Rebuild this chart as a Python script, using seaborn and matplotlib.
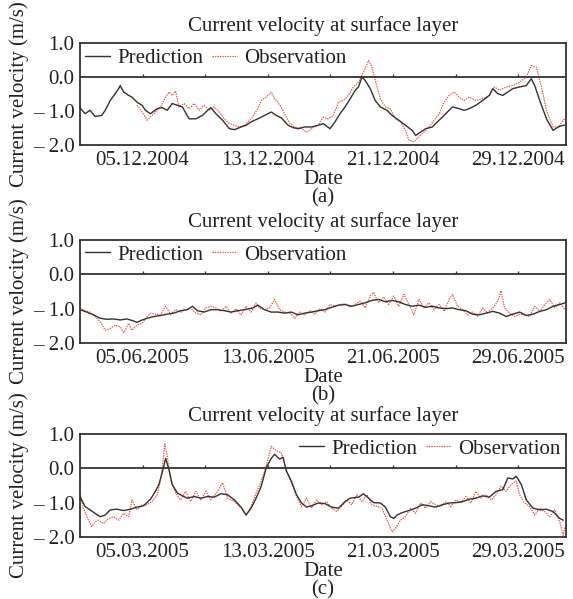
import numpy as np
import pandas as pd
import matplotlib
matplotlib.use("Agg")
import matplotlib.pyplot as plt
import matplotlib.dates as mdates
import seaborn as sns

# ---------------- data ----------------
# day offsets from the panel start date, and velocity (m/s)
a_pred_day = [0.00,0.32,0.64,0.96,1.39,1.61,1.93,2.25,2.47,2.57,2.79,3.11,3.32,3.64,3.97,4.18,4.50,4.93,5.25,5.57,
              5.89,6.22,6.54,6.97,7.40,7.82,8.15,8.36,8.68,9.11,9.54,9.86,10.29,10.61,10.93,11.36,11.79,12.22,12.54,12.86,
              13.29,13.61,13.93,14.36,14.79,15.22,15.54,15.97,16.29,16.61,16.93,17.26,17.58,17.79,18.01,18.22,18.54,18.86,19.19,19.61,
              19.94,20.36,20.79,21.22,21.44,21.76,22.08,22.51,22.83,23.15,23.47,23.79,24.22,24.54,24.87,25.29,25.72,26.15,26.37,26.69,
              27.01,27.33,27.65,28.08,28.51,28.83,29.05,29.37,29.80,30.22,30.55,30.87,31.04]
a_pred_val = [-0.90,-1.08,-0.98,-1.16,-1.13,-0.98,-0.69,-0.49,-0.34,-0.25,-0.44,-0.54,-0.59,-0.74,-0.83,-0.98,-1.08,-0.93,-0.90,-0.98,
              -0.78,-0.83,-0.88,-1.23,-1.23,-1.13,-0.98,-0.90,-1.08,-1.27,-1.52,-1.55,-1.47,-1.42,-1.32,-1.23,-1.13,-1.03,-1.13,-1.20,
              -1.42,-1.49,-1.52,-1.47,-1.47,-1.42,-1.37,-1.52,-1.32,-1.08,-0.88,-0.64,-0.39,-0.29,0.00,-0.10,-0.34,-0.69,-0.88,-0.98,
              -1.13,-1.27,-1.42,-1.57,-1.72,-1.62,-1.52,-1.47,-1.32,-1.18,-1.03,-0.88,-0.93,-0.98,-0.93,-0.83,-0.69,-0.54,-0.34,-0.49,
              -0.54,-0.44,-0.34,-0.29,-0.25,-0.05,-0.25,-0.69,-1.23,-1.57,-1.47,-1.42,-1.42]
a_obs_day = [3.64,3.97,4.29,4.61,4.93,5.14,5.47,5.68,5.89,6.11,6.32,6.65,6.97,7.29,7.61,7.93,8.25,8.57,8.90,9.22,
             9.54,9.86,10.18,10.50,10.93,11.36,11.58,11.90,12.22,12.43,12.65,13.08,13.40,13.72,14.15,14.47,14.79,15.22,15.54,15.86,
             16.18,16.51,16.83,17.15,17.47,17.79,18.11,18.44,18.65,18.86,19.19,19.51,19.83,20.15,20.47,20.79,21.01,21.33,21.65,21.97,
             22.29,22.62,22.94,23.26,23.58,23.90,24.22,24.54,24.87,25.29,25.72,26.15,26.47,26.80,27.22,27.65,28.08,28.51,28.83,29.15,
             29.48,29.80,30.22,30.55,30.87,31.04]
a_obs_val = [-0.83,-1.03,-1.27,-1.13,-0.98,-0.88,-0.59,-0.44,-0.54,-0.41,-0.88,-0.78,-0.93,-0.78,-0.98,-0.83,-0.98,-0.88,-1.03,-1.23,
             -1.37,-1.42,-1.47,-1.42,-1.23,-0.93,-0.69,-0.59,-0.44,-0.64,-0.74,-1.08,-1.37,-1.47,-1.52,-1.62,-1.52,-1.42,-1.18,-1.23,
             -1.13,-0.74,-0.69,-0.54,-0.29,-0.15,0.15,0.49,0.29,-0.10,-0.64,-0.88,-0.93,-1.23,-1.32,-1.57,-1.86,-1.91,-1.76,-1.62,
             -1.47,-1.27,-1.08,-0.74,-0.54,-0.44,-0.59,-0.69,-0.59,-0.69,-0.64,-0.54,-0.29,-0.39,-0.29,-0.25,-0.15,0.00,0.34,0.29,
             -0.29,-0.98,-1.47,-1.47,-1.27,-1.18]

b_pred_day = [0.00,0.43,0.86,1.29,1.71,2.14,2.57,3.00,3.43,3.64,3.97,4.29,4.72,5.14,5.57,6.00,6.43,6.86,7.18,7.50,
              7.93,8.36,8.79,9.22,9.65,10.08,10.50,11.04,11.36,11.79,12.22,12.65,13.08,13.50,13.93,14.36,14.79,15.22,15.65,16.08,
              16.51,16.93,17.36,17.79,18.22,18.65,19.08,19.51,19.94,20.36,20.79,21.22,21.65,22.08,22.51,22.94,23.37,23.79,24.22,24.65,
              25.08,25.51,25.94,26.37,26.80,27.22,27.65,28.08,28.51,28.94,29.37,29.80,30.22,30.65,30.98]
b_pred_val = [-1.03,-1.10,-1.18,-1.28,-1.31,-1.30,-1.33,-1.30,-1.36,-1.40,-1.33,-1.28,-1.23,-1.20,-1.16,-1.13,-1.06,-1.03,-0.93,-1.06,
              -1.10,-1.03,-1.03,-1.06,-1.10,-1.06,-1.03,-0.98,-0.90,-1.03,-1.10,-1.10,-1.13,-1.10,-1.18,-1.13,-1.10,-1.06,-1.03,-0.96,
              -0.90,-0.88,-0.93,-0.88,-0.83,-0.76,-0.73,-0.80,-0.76,-0.80,-0.88,-0.93,-0.90,-0.96,-0.93,-0.98,-1.00,-0.98,-1.03,-1.06,
              -1.16,-1.18,-1.13,-1.08,-1.13,-1.23,-1.16,-1.10,-1.20,-1.16,-1.08,-1.03,-0.93,-0.88,-0.83]
b_obs_day = [0.00,0.32,0.64,0.96,1.29,1.61,1.93,2.25,2.57,2.79,3.11,3.32,3.64,3.97,4.29,4.50,4.82,5.14,5.47,5.79,
             6.11,6.43,6.75,7.07,7.40,7.72,8.04,8.36,8.68,9.00,9.32,9.65,9.97,10.29,10.61,10.93,11.25,11.47,11.79,12.11,
             12.43,12.75,13.08,13.40,13.72,14.04,14.36,14.68,15.01,15.33,15.65,15.97,16.29,16.61,16.93,17.26,17.58,17.90,18.22,18.54,
             18.76,19.08,19.40,19.72,20.04,20.36,20.69,21.01,21.33,21.65,21.97,22.29,22.62,22.94,23.26,23.58,23.79,24.12,24.44,24.76,
             25.08,25.40,25.72,26.05,26.37,26.69,26.90,27.12,27.44,27.76,28.08,28.40,28.72,29.05,29.37,29.69,30.01,30.33,30.65,30.98]
b_obs_val = [-0.98,-1.06,-1.10,-1.23,-1.38,-1.63,-1.58,-1.48,-1.53,-1.70,-1.43,-1.63,-1.48,-1.43,-1.23,-1.13,-1.16,-1.18,-0.93,-1.16,
             -1.03,-1.10,-1.03,-0.98,-1.13,-1.18,-0.98,-0.93,-0.98,-1.08,-0.93,-1.13,-1.00,-1.18,-0.93,-1.10,-0.83,-0.98,-1.03,-0.98,
             -0.73,-1.03,-1.10,-1.13,-1.28,-1.10,-1.18,-1.06,-1.16,-1.00,-1.10,-0.88,-0.93,-0.88,-0.86,-0.96,-0.88,-0.78,-0.98,-0.63,
             -0.53,-0.83,-0.66,-0.88,-0.63,-0.93,-0.58,-0.88,-1.18,-0.73,-0.98,-0.83,-1.03,-0.88,-1.08,-0.73,-0.58,-0.93,-1.03,-1.18,
             -1.10,-1.23,-0.98,-1.13,-0.98,-0.78,-0.48,-0.98,-1.13,-1.23,-1.16,-1.18,-1.23,-0.93,-1.08,-0.88,-0.73,-0.98,-0.83,-1.03]

c_pred_day = [0.00,0.32,0.64,0.96,1.29,1.61,1.93,2.36,2.79,3.22,3.64,4.07,4.50,4.82,5.04,5.25,5.47,5.68,5.89,6.22,
              6.54,6.86,7.29,7.72,8.15,8.57,9.00,9.43,9.86,10.29,10.61,10.93,11.25,11.58,11.90,12.22,12.43,12.75,12.97,13.18,
              13.50,13.83,14.15,14.47,14.79,15.22,15.65,16.08,16.51,16.93,17.26,17.79,18.11,18.44,18.76,19.19,19.51,19.83,20.04,20.26,
              20.58,21.01,21.44,21.87,22.29,22.72,23.15,23.58,24.01,24.44,24.87,25.29,25.72,26.15,26.58,27.01,27.33,27.65,27.87,28.19,
              28.51,28.94,29.37,29.80,30.22,30.65,30.87]
c_pred_val = [-0.82,-1.11,-1.21,-1.31,-1.41,-1.36,-1.21,-1.19,-1.23,-1.19,-1.13,-1.09,-0.90,-0.67,-0.47,-0.13,0.29,-0.03,-0.47,-0.72,
              -0.80,-0.87,-0.82,-0.87,-0.82,-0.84,-0.74,-0.77,-0.92,-1.13,-1.36,-1.16,-0.87,-0.52,0.02,0.29,0.41,0.27,0.32,-0.08,
              -0.37,-0.77,-1.01,-1.13,-1.09,-1.01,-1.03,-1.13,-1.16,-0.97,-0.87,-0.84,-0.74,-0.87,-1.00,-1.01,-1.13,-1.41,-1.46,-1.36,
              -1.29,-1.23,-1.16,-1.06,-1.09,-1.13,-1.06,-1.01,-1.00,-0.97,-0.90,-0.87,-0.80,-0.84,-0.67,-0.62,-0.28,-0.31,-0.23,-0.47,
              -0.92,-1.16,-1.21,-1.19,-1.26,-1.46,-1.51]
c_obs_day = [0.00,0.21,0.54,0.75,0.96,1.18,1.50,1.82,2.14,2.47,2.79,3.11,3.32,3.64,3.97,4.29,4.61,4.93,5.14,5.32,
             5.42,5.57,5.79,6.11,6.43,6.75,7.07,7.40,7.72,8.04,8.36,8.79,9.11,9.43,9.86,10.29,10.61,10.93,11.25,11.58,
             11.90,12.22,12.54,12.86,13.18,13.50,13.83,14.15,14.47,14.79,15.11,15.43,15.76,16.08,16.40,16.72,17.04,17.36,17.68,18.01,
             18.33,18.65,18.97,19.29,19.61,19.94,20.15,20.47,20.79,21.11,21.44,21.76,22.08,22.40,22.72,23.04,23.37,23.69,24.01,24.33,
             24.65,24.97,25.29,25.62,25.94,26.26,26.58,26.90,27.22,27.55,27.87,28.08,28.40,28.72,29.05,29.37,29.69,30.01,30.33,30.65,
             30.87,30.98]
c_obs_val = [-0.72,-1.16,-1.51,-1.70,-1.56,-1.51,-1.61,-1.46,-1.41,-1.51,-1.31,-1.41,-0.92,-1.21,-1.06,-1.06,-0.97,-0.77,-0.37,0.27,
             0.71,0.36,-0.33,-0.72,-0.92,-0.67,-0.97,-0.67,-0.92,-0.67,-0.92,-0.67,-0.42,-0.87,-0.97,-1.16,-1.36,-1.11,-0.72,-0.37,
             0.07,0.64,0.51,0.46,-0.03,-0.42,-0.82,-1.11,-0.87,-1.16,-0.92,-1.06,-0.97,-1.16,-1.26,-1.11,-0.92,-1.06,-0.77,-0.97,
             -0.77,-1.06,-1.11,-1.16,-1.51,-1.85,-1.75,-1.51,-1.41,-1.16,-1.31,-1.01,-1.16,-0.97,-1.06,-1.11,-0.97,-1.11,-0.92,-1.01,
             -0.82,-1.01,-0.67,-0.87,-0.77,-0.92,-0.77,-0.52,-0.67,-0.47,-0.37,-0.77,-1.01,-1.11,-1.36,-1.16,-1.26,-1.41,-1.21,-1.56,
             -1.95,-1.70]

panel_starts = ["2004-12-01", "2005-06-01", "2005-03-01"]
panel_labels = [["2004-12-05", "2004-12-13", "2004-12-21", "2004-12-29"],
                ["2005-06-05", "2005-06-13", "2005-06-21", "2005-06-29"],
                ["2005-03-05", "2005-03-13", "2005-03-21", "2005-03-29"]]
panel_tags = ["(a)", "(b)", "(c)"]
legend_locs = ["upper left", "upper left", "upper right"]
y_ticks = [1.0, 0.0, -1.0, -2.0]
y_ticklabels = ["1.0", "0.0", "\u2013 1.0", "\u2013 2.0"]
series = [(a_pred_day, a_pred_val, a_obs_day, a_obs_val),
          (b_pred_day, b_pred_val, b_obs_day, b_obs_val),
          (c_pred_day, c_pred_val, c_obs_day, c_obs_val)]

# ---------------- style ----------------
sns.set_theme(style="white")
plt.rcParams["font.family"] = ["Liberation Serif", "DejaVu Serif"]
FS = 15
DARK = "#333333"
TXT = "#222222"
RED = "#f0503c"

fig = plt.figure(figsize=(5.73, 5.99), dpi=100)
positions = [[0.1396, 0.758, 0.848, 0.170],
             [0.1396, 0.4274, 0.848, 0.172],
             [0.1396, 0.1035, 0.848, 0.172]]

for i in range(3):
    ax = fig.add_axes(positions[i])
    pd_day, pd_val, ob_day, ob_val = series[i]
    start = pd.Timestamp(panel_starts[i])
    pred_t = start + pd.to_timedelta(pd_day, unit="D")
    obs_t = start + pd.to_timedelta(ob_day, unit="D")
    sns.lineplot(x=obs_t, y=ob_val, ax=ax, color=RED, lw=0.85, linestyle=(0, (1.2, 0.9)),
                 estimator=None, sort=False, label="Observation", legend=False)
    sns.lineplot(x=pred_t, y=pd_val, ax=ax, color=DARK, lw=1.0,
                 estimator=None, sort=False, label="Prediction", legend=False)
    ax.set_xlim(start, start + pd.Timedelta(days=31.04))
    ax.set_ylim(-2, 1)
    ax.set_yticks(y_ticks)
    ax.set_yticklabels(y_ticklabels)
    lab_dates = pd.to_datetime(panel_labels[i])
    ax.set_xticks(lab_dates)
    ax.xaxis.set_major_formatter(mdates.DateFormatter("%d.%m.%Y"))
    ax.tick_params(axis="both", length=0, labelsize=FS, colors=TXT)
    ax.tick_params(axis="x", pad=4)
    ax.tick_params(axis="y", pad=4)
    for s in ax.spines.values():
        s.set_color(DARK)
        s.set_linewidth(1.3)
        s.set_visible(True)
    # zero reference line with small upward ticks every 4 days
    ax.axhline(0, color=DARK, lw=1.3, zorder=3)
    zero_ticks = pd.date_range(lab_dates[0], periods=7, freq="4D")
    ax.vlines(zero_ticks, 0, 0.1, color=DARK, lw=0.9, zorder=3)
    ax.set_title("Current velocity at surface layer", fontsize=FS, pad=9, color=TXT)
    ax.set_xlabel("Date\n" + panel_tags[i], fontsize=FS, labelpad=0, linespacing=0.95, color=TXT)
    ax.set_ylabel("Current velocity (m/s)", fontsize=FS, color=TXT)
    ax.yaxis.set_label_coords(-0.105, 0.5)
    h, l = ax.get_legend_handles_labels()
    order = [l.index("Prediction"), l.index("Observation")]
    ax.legend([h[k] for k in order], [l[k] for k in order], ncol=2, frameon=False,
              loc=legend_locs[i], fontsize=FS, handlelength=1.2, handletextpad=0.35,
              columnspacing=0.4, borderaxespad=0.05, borderpad=0.2, labelcolor=TXT)

fig.savefig("out.png", dpi=100, facecolor="white")
